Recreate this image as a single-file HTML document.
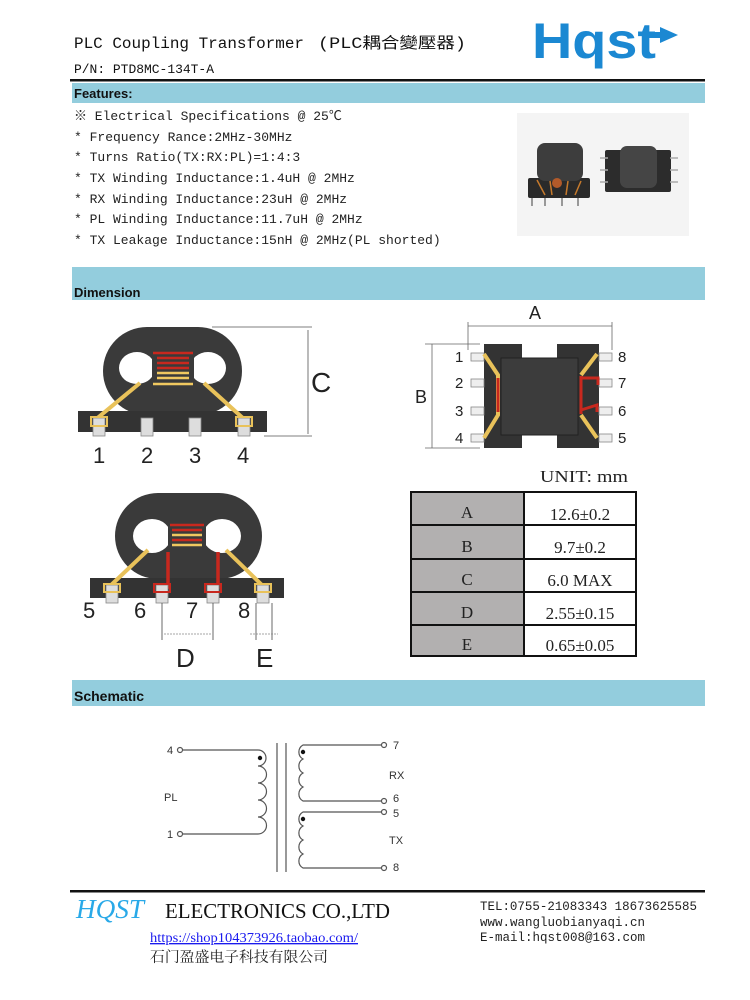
<!DOCTYPE html>
<html><head><meta charset="utf-8"><style>
html,body{margin:0;padding:0;background:#fff}
svg{display:block}
.m{font-family:"Liberation Mono","Noto Sans CJK SC",monospace}
.s{font-family:"Liberation Sans",sans-serif}
.sr{font-family:"Liberation Serif","Noto Serif CJK SC",serif}
</style></head><body>
<svg width="750" height="1000" viewBox="0 0 750 1000" xmlns="http://www.w3.org/2000/svg">
<rect width="750" height="1000" fill="#fff"/>
<!-- header -->
<text x="74" y="48" class="m" font-size="15.5" fill="#111" textLength="230" lengthAdjust="spacingAndGlyphs">PLC Coupling Transformer</text>
<text x="318" y="48" class="m" font-size="15.5" fill="#111" textLength="148" lengthAdjust="spacingAndGlyphs">(PLC耦合變壓器)</text>
<text x="74" y="73" class="m" font-size="13" fill="#111" textLength="140" lengthAdjust="spacingAndGlyphs">P/N: PTD8MC-134T-A</text>
<text x="532" y="58" class="s" font-weight="bold" font-size="50" fill="#1b88d2" textLength="124" lengthAdjust="spacingAndGlyphs">Hqst</text>
<rect x="645" y="32" width="16" height="6" fill="#1b88d2"/>
<polygon points="660,27 678,35 660,43" fill="#1b88d2"/>
<rect x="70" y="79" width="635" height="2.5" fill="#111"/>
<!-- features bar -->
<rect x="72" y="83" width="633" height="20" fill="#93cddd"/>
<text x="74" y="98" class="s" font-weight="bold" font-size="13" fill="#111">Features:</text>
<g class="m" font-size="13" fill="#222">
<text x="74" y="120">※ Electrical Specifications @ 25℃</text>
<text x="74" y="141">* Frequency Rance:2MHz-30MHz</text>
<text x="74" y="161">* Turns Ratio(TX:RX:PL)=1:4:3</text>
<text x="74" y="182">* TX Winding Inductance:1.4uH @ 2MHz</text>
<text x="74" y="203">* RX Winding Inductance:23uH @ 2MHz</text>
<text x="74" y="223">* PL Winding Inductance:11.7uH @ 2MHz</text>
<text x="74" y="244">* TX Leakage Inductance:15nH @ 2MHz(PL shorted)</text>
</g>
<!-- photo -->
<rect x="517" y="113" width="172" height="123" fill="#f4f4f4"/>
<rect x="528" y="178" width="62" height="20" rx="2" fill="#2a2a2a"/>
<rect x="537" y="143" width="46" height="38" rx="8" fill="#3d3d3d"/>
<path d="M545 195 l-8 -15 M552 195 l-2 -14 M566 195 l2 -14 M575 195 l6 -14" stroke="#c77a2c" stroke-width="1.5"/>
<circle cx="557" cy="183" r="5" fill="#b25a2a"/>
<path d="M532 198v8 M545 198v8 M562 198v8 M578 198v8" stroke="#999" stroke-width="2"/>
<rect x="605" y="150" width="66" height="42" rx="2" fill="#2c2c2c"/>
<rect x="620" y="146" width="37" height="42" rx="7" fill="#454545"/>
<path d="M600 158h8 M600 170h8 M600 182h8 M670 158h8 M670 170h8 M670 182h8" stroke="#aaa" stroke-width="1.5"/>
<!-- dimension bar -->
<rect x="72" y="267" width="633" height="33" fill="#93cddd"/>
<text x="74" y="297" class="s" font-weight="bold" font-size="13" fill="#111">Dimension</text>

<!-- drawing 1 -->
<rect x="103" y="327" width="139" height="88" rx="44" fill="#3a3a3a"/>
<ellipse cx="137" cy="368" rx="18" ry="16" fill="#fff"/>
<ellipse cx="208" cy="368" rx="18" ry="16" fill="#fff"/>
<rect x="152" y="352" width="42" height="34" fill="#3a3a3a"/>
<g stroke-width="2.5">
<line x1="153" y1="353" x2="193" y2="353" stroke="#c8281e"/>
<line x1="157" y1="358" x2="189" y2="358" stroke="#c8281e"/>
<line x1="157" y1="363" x2="189" y2="363" stroke="#c8281e"/>
<line x1="157" y1="368" x2="189" y2="368" stroke="#c8281e"/>
<line x1="157" y1="373" x2="189" y2="373" stroke="#f0c860"/>
<line x1="157" y1="378" x2="189" y2="378" stroke="#f0c860"/>
<line x1="153" y1="384" x2="193" y2="384" stroke="#f0c860"/>
</g>
<rect x="78" y="411" width="189" height="21" fill="#333"/>
<path d="M140 383 L95 420 M204 383 L245 420" stroke="#e9c25a" stroke-width="4"/>
<g fill="#ddd" stroke="#888" stroke-width="0.8">
<rect x="93" y="418" width="12" height="18"/><rect x="141" y="418" width="12" height="18"/><rect x="189" y="418" width="12" height="18"/><rect x="238" y="418" width="12" height="18"/>
</g>
<rect x="91" y="417" width="16" height="9" fill="none" stroke="#e9c25a" stroke-width="2"/>
<rect x="236" y="417" width="16" height="9" fill="none" stroke="#e9c25a" stroke-width="2"/>
<g class="s" font-size="22" fill="#222">
<text x="93" y="463">1</text><text x="141" y="463">2</text><text x="189" y="463">3</text><text x="237" y="463">4</text>
</g>
<path d="M212 327H312 M264 436H312 M308 330V434" stroke="#555" stroke-width="0.8"/>
<text x="311" y="392" class="s" font-size="28" fill="#222">C</text>

<!-- drawing 2 -->
<rect x="115" y="493" width="147" height="86" rx="43" fill="#3a3a3a"/>
<ellipse cx="152" cy="536" rx="19" ry="17" fill="#fff"/>
<ellipse cx="222" cy="536" rx="19" ry="17" fill="#fff"/>
<rect x="168" y="521" width="38" height="32" fill="#3a3a3a"/>
<g stroke-width="2.5">
<line x1="170" y1="525" x2="204" y2="525" stroke="#c8281e"/>
<line x1="172" y1="530" x2="202" y2="530" stroke="#c8281e"/>
<line x1="172" y1="535" x2="202" y2="535" stroke="#f0c860"/>
<line x1="172" y1="540" x2="202" y2="540" stroke="#c8281e"/>
<line x1="172" y1="545" x2="202" y2="545" stroke="#f0c860"/>
</g>
<rect x="90" y="578" width="194" height="20" fill="#333"/>
<path d="M148 550 L108 588 M226 550 L265 588" stroke="#e9c25a" stroke-width="4"/>
<path d="M168 552 V587 H158 M218 552 V587 H208" stroke="#c8281e" stroke-width="3.5" fill="none"/>
<g fill="#ddd" stroke="#888" stroke-width="0.8">
<rect x="106" y="585" width="12" height="18"/><rect x="156" y="585" width="12" height="18"/><rect x="207" y="585" width="12" height="18"/><rect x="257" y="585" width="12" height="18"/>
</g>
<rect x="104" y="584" width="16" height="8" fill="none" stroke="#e9c25a" stroke-width="2"/>
<rect x="154" y="584" width="16" height="8" fill="none" stroke="#c8281e" stroke-width="2"/>
<rect x="205" y="584" width="16" height="8" fill="none" stroke="#c8281e" stroke-width="2"/>
<rect x="255" y="584" width="16" height="8" fill="none" stroke="#e9c25a" stroke-width="2"/>
<g class="s" font-size="22" fill="#222">
<text x="83" y="618">5</text><text x="134" y="618">6</text><text x="186" y="618">7</text><text x="238" y="618">8</text>
</g>
<path d="M162 603V640 M213 603V640 M256 603V640 M272 603V640" stroke="#444" stroke-width="0.8"/>
<path d="M164 634H211 M250 634H278" stroke="#888" stroke-width="0.8" stroke-dasharray="2 1"/>
<text x="176" y="667" class="s" font-size="26" fill="#222">D</text>
<text x="256" y="667" class="s" font-size="26" fill="#222">E</text>

<!-- top view -->
<path d="M484 344H522V358H557V344H599V448H557V435H522V448H484Z" fill="#333"/>
<rect x="501" y="358" width="77" height="77" fill="#3c3c3c" stroke="#222"/>
<g fill="#eee" stroke="#888" stroke-width="0.8">
<rect x="471" y="353" width="13" height="8"/><rect x="471" y="379" width="13" height="8"/><rect x="471" y="407" width="13" height="8"/><rect x="471" y="434" width="13" height="8"/>
<rect x="599" y="353" width="13" height="8"/><rect x="599" y="379" width="13" height="8"/><rect x="599" y="407" width="13" height="8"/><rect x="599" y="434" width="13" height="8"/>
</g>
<path d="M484 354 L498 375 V415 L484 438 M597 354 L581 375 M581 415 L597 438" stroke="#e9c25a" stroke-width="4" fill="none"/>
<path d="M498 378V412 M581 376V414 M581 378H598V385 M581 410L597 405V412" stroke="#c8281e" stroke-width="3" fill="none"/>
<path d="M468 326H612 M468 322V350 M612 322V350 M425 344H480 M425 448H480 M432 344V448" stroke="#666" stroke-width="0.8"/>
<g class="s" font-size="15" fill="#222">
<text x="529" y="319" font-size="18">A</text><text x="415" y="403" font-size="18">B</text>
<text x="455" y="362">1</text><text x="455" y="388">2</text><text x="455" y="416">3</text><text x="455" y="443">4</text>
<text x="618" y="362">8</text><text x="618" y="388">7</text><text x="618" y="416">6</text><text x="618" y="443">5</text>
</g>
<text x="540" y="482" class="sr" font-size="17" fill="#222" textLength="88" lengthAdjust="spacingAndGlyphs">UNIT: mm</text>
<!-- table -->
<g stroke="#111" stroke-width="2">
<rect x="411" y="492" width="113" height="164" fill="#b2b0b0"/>
<rect x="524" y="492" width="112" height="164" fill="#fff"/>
<path d="M411 525H636 M411 559H636 M411 592H636 M411 625H636"/>
</g>
<g class="sr" font-size="17" fill="#222" text-anchor="middle">
<text x="467" y="518">A</text><text x="467" y="552">B</text><text x="467" y="585">C</text><text x="467" y="618">D</text><text x="467" y="650">E</text>
<text x="580" y="520">12.6±0.2</text><text x="580" y="553">9.7±0.2</text><text x="580" y="586">6.0 MAX</text><text x="580" y="619">2.55±0.15</text><text x="580" y="651">0.65±0.05</text>
</g>

<!-- schematic bar -->
<rect x="72" y="680" width="633" height="26" fill="#93cddd"/>
<text x="74" y="701" class="s" font-weight="bold" font-size="14" fill="#111">Schematic</text>
<g stroke="#555" stroke-width="1.2" fill="none">
<path d="M183 750H258 a8 8 0 0 1 0 16 a8 8 0 0 1 0 17 a8 8 0 0 1 0 17 a8 8 0 0 1 0 17 a8 8 0 0 1 0 17 H183"/>
<path d="M277 743V872 M286 743V872"/>
<path d="M381 745H303 a8 8 0 0 0 0 14 a8 8 0 0 0 0 14 a8 8 0 0 0 0 14 a8 8 0 0 0 0 14 H381"/>
<path d="M381 812H303 a8 8 0 0 0 0 14 a8 8 0 0 0 0 14 a8 8 0 0 0 0 14 a8 8 0 0 0 0 14 H381"/>
<circle cx="180" cy="750" r="2.5"/><circle cx="180" cy="834" r="2.5"/>
<circle cx="384" cy="745" r="2.5"/><circle cx="384" cy="801" r="2.5"/>
<circle cx="384" cy="812" r="2.5"/><circle cx="384" cy="868" r="2.5"/>
</g>
<g fill="#111"><circle cx="260" cy="758" r="2.2"/><circle cx="303" cy="752" r="2.2"/><circle cx="303" cy="819" r="2.2"/></g>
<g class="s" font-size="11" fill="#333">
<text x="167" y="754">4</text><text x="167" y="838">1</text><text x="164" y="801">PL</text>
<text x="393" y="749">7</text><text x="393" y="802">6</text><text x="393" y="817">5</text><text x="393" y="871">8</text>
<text x="389" y="779">RX</text><text x="389" y="844">TX</text>
</g>

<!-- footer -->
<rect x="70" y="890" width="635" height="2.5" fill="#111"/>
<text x="76" y="918" class="sr" font-style="italic" font-size="27" fill="#29a9e8" textLength="68" lengthAdjust="spacingAndGlyphs">HQST</text>
<text x="165" y="918" class="sr" font-size="21" fill="#111" textLength="225" lengthAdjust="spacingAndGlyphs">ELECTRONICS CO.,LTD</text>
<text x="150" y="942" class="sr" font-size="13.5" fill="#1a1aee" text-decoration="underline" textLength="208" lengthAdjust="spacingAndGlyphs">https://shop104373926.taobao.com/</text>
<text x="150" y="962" class="sr" font-size="14.5" fill="#222" textLength="178" lengthAdjust="spacingAndGlyphs">石门盈盛电子科技有限公司</text>
<g class="m" font-size="13" fill="#222">
<text x="480" y="910" textLength="217" lengthAdjust="spacingAndGlyphs">TEL:0755-21083343 18673625585</text>
<text x="480" y="926" textLength="165" lengthAdjust="spacingAndGlyphs">www.wangluobianyaqi.cn</text>
<text x="480" y="941" textLength="165" lengthAdjust="spacingAndGlyphs">E-mail:hqst008@163.com</text>
</g>
</svg>
</body></html>
